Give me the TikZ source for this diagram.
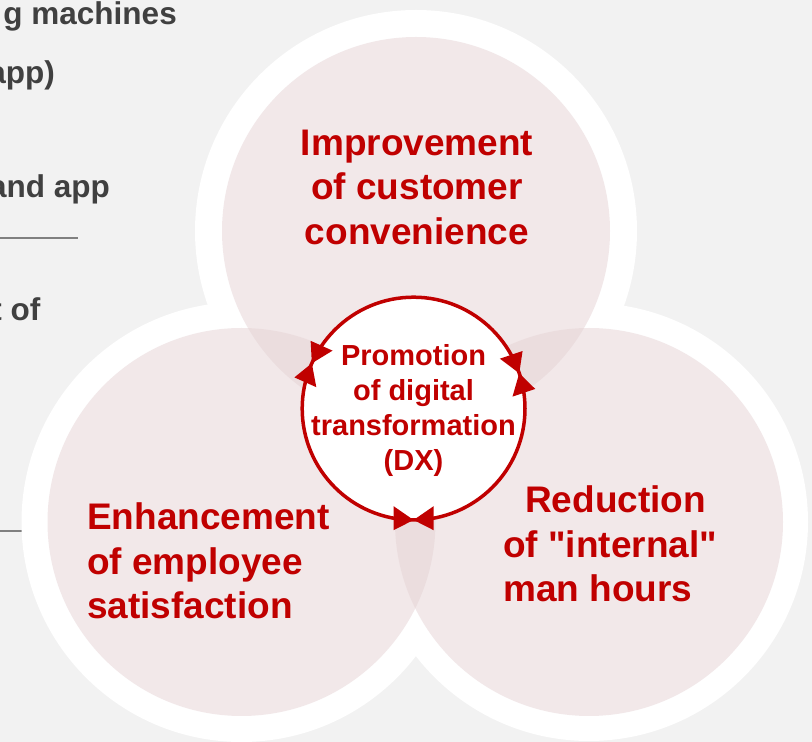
\documentclass[tikz,border=0pt]{standalone}
\usepackage{fontspec}
\setmainfont{Liberation Sans}[Ligatures=TeXOff]
\definecolor{bggray}{HTML}{F2F2F2}
\definecolor{dxred}{HTML}{C00000}
\definecolor{pinkfill}{RGB}{230,211,213}
\definecolor{graytext}{HTML}{404040}
\definecolor{rulegray}{HTML}{808080}
\begin{document}
\begin{tikzpicture}[x=1pt,y=1pt,
  ring/.style={fill=white, draw=none},
  petal/.style={fill=pinkfill, fill opacity=0.5, draw=none},
  bigtext/.style={font=\fontsize{37}{44.5}\selectfont\bfseries, text=dxred, inner sep=0pt},
  coretext/.style={font=\fontsize{29}{35}\selectfont\bfseries, text=dxred, align=center, inner sep=0pt},
  sidetext/.style={font=\fontsize{31.5}{38}\selectfont\bfseries, text=graytext, inner sep=0pt, anchor=base east},
  rulestyle/.style={draw=rulegray, line width=2pt},
  coredisc/.style={circle, fill=white, draw=dxred, line width=3.5pt, minimum size=222.8pt, inner sep=0pt, outer sep=0pt},
  tipmark/.style={fill=dxred, draw=none}
]
\useasboundingbox (0,0) rectangle (812,742);
\clip (0,0) rectangle (812,742);
\fill[bggray] (0,0) rectangle (812,742);

% partially hidden side texts
\node[sidetext] (t1) at (177,717) {g machines};
\node[sidetext] (t2) at (55,658) {app)};
\node[sidetext] (t3) at (110,544) {and app};
\node[sidetext] (t4) at (40.5,421) {t of};
\coordinate (r1a) at (0,504); \coordinate (r1b) at (78,504);
\draw[rulestyle] (r1a) -- (r1b);
\coordinate (r2a) at (0,211); \coordinate (r2b) at (80,211);
\draw[rulestyle] (r2a) -- (r2b);

% circle centres
\coordinate (ct) at (416,511);
\coordinate (cl) at (241.5,220);
\coordinate (cr) at (589,220);
\coordinate (cc) at (413.6,333.4);

% white rings
\fill[ring] (ct) circle (221pt);
\fill[ring] (cl) circle (220pt);
\fill[ring] (cr) circle (219pt);

% pink discs
\fill[petal] (ct) circle (194pt);
\fill[petal] (cl) circle (194pt);
\fill[petal] (cr) circle (194pt);

% central disc with its cycle of arrowheads
\node[coredisc] (core) at (cc) {};
\foreach \a in {156,18.5,270} {
  \begin{scope}[shift={(core.center)}, rotate=\a-270]
    \fill[tipmark] (0,-111.4) -- (-20,-121.6) -- (-20,-97.6) -- cycle;
    \fill[tipmark] (0,-111.4) -- (20,-121.6) -- (20,-97.6) -- cycle;
  \end{scope}
}
\node[coretext] (coretxt) at (413.5,331.85) {Promotion\\of digital\\transformation\\(DX)};

% labels
\node[bigtext, align=center] (imp) at (417,554.75) {Improvement\\of customer\\convenience};
\node[bigtext, align=left, anchor=west] (enh) at (87,180.75) {Enhancement\\of employee\\satisfaction};
\node[bigtext, align=left, anchor=west] (red) at (503,197.75) {\hspace*{22pt}Reduction\\of "internal"\\man hours};
\end{tikzpicture}
\end{document}
